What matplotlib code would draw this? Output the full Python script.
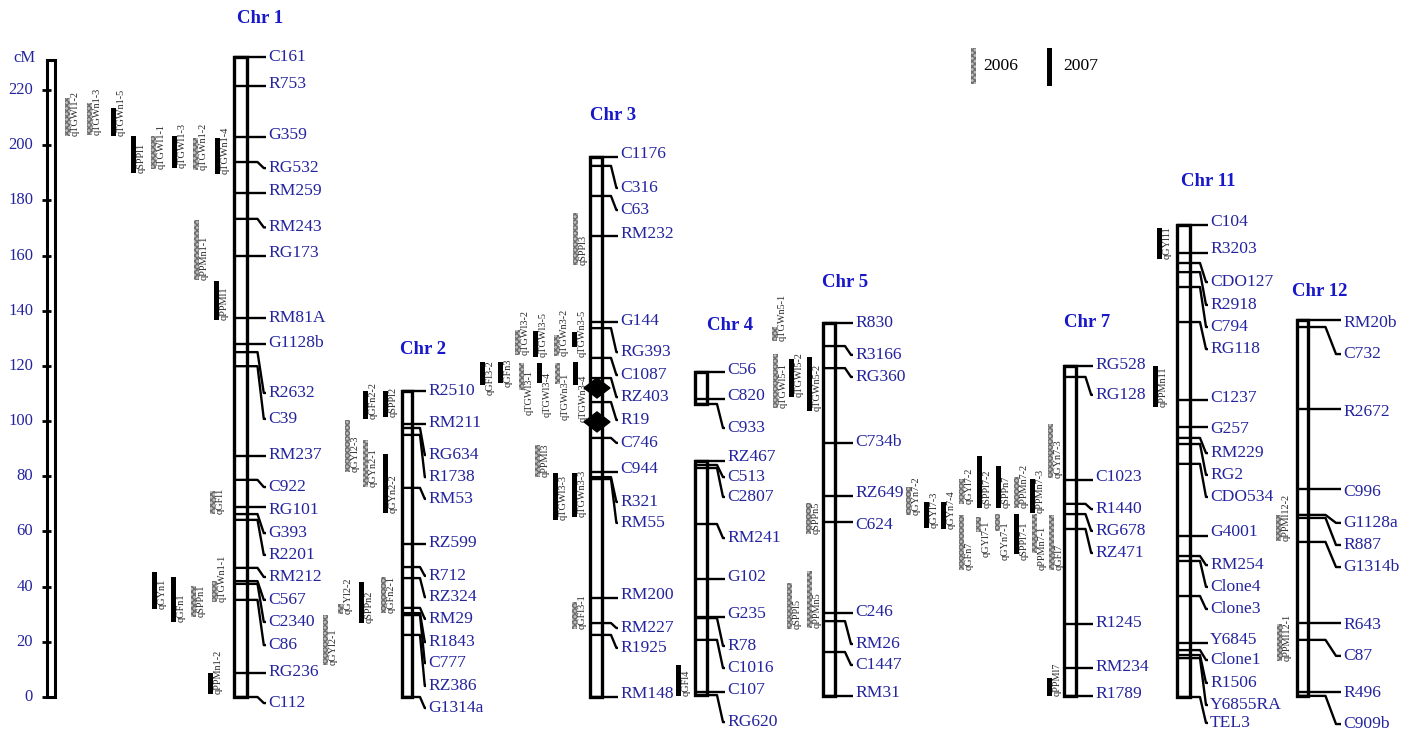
import matplotlib
matplotlib.use('Agg')
import matplotlib.pyplot as plt
from matplotlib.patches import Rectangle, Polygon

# ---- markers (name, cM) per chromosome ----
chr1_markers = ['C161', 'R753', 'G359', 'RG532', 'RM259', 'RM243', 'RG173', 'RM81A', 'G1128b',
                'R2632', 'C39', 'RM237', 'C922', 'RG101', 'G393', 'R2201', 'RM212', 'C567',
                'C2340', 'C86', 'RG236', 'C112']
chr1_cm = [232.0, 221.5, 202.9, 193.9, 182.7, 173.3, 159.8, 137.4, 128.0,
           125.0, 119.9, 87.4, 78.7, 68.9, 66.3, 64.2, 46.8, 42.0,
           41.0, 35.2, 8.7, 0.0]

chr2_markers = ['R2510', 'RM211', 'RG634', 'R1738', 'RM53', 'RZ599', 'R712', 'RZ324', 'RM29',
                'R1843', 'C777', 'RZ386', 'G1314a']
chr2_cm = [110.9, 98.9, 97.5, 95.0, 75.8, 55.5, 47.1, 43.1, 32.3, 30.4, 29.7, 22.5, 0.0]

chr3_markers = ['C1176', 'C316', 'C63', 'RM232', 'G144', 'RG393', 'C1087', 'RZ403', 'R19',
                'C746', 'C944', 'R321', 'RM55', 'RM200', 'RM227', 'R1925', 'RM148']
chr3_cm = [195.7, 192.5, 181.6, 167.1, 135.9, 133.7, 122.9, 115.6, 106.9,
           93.9, 81.6, 79.7, 79.0, 35.9, 26.8, 22.5, 0.0]
chr3_centromere_cm = [112.0, 99.7]

chr4a_markers = ['C56', 'C820', 'C933']
chr4a_cm = [117.8, 108.0, 106.2]
chr4b_markers = ['RZ467', 'C513', 'C2807', 'RM241', 'G102', 'G235', 'R78', 'C1016', 'C107', 'RG620']
chr4b_cm = [85.5, 84.1, 83.0, 62.7, 42.8, 29.0, 28.6, 20.7, 1.8, 0.7]

chr5_markers = ['R830', 'R3166', 'RG360', 'C734b', 'RZ649', 'C624', 'C246', 'RM26', 'C1447', 'RM31']
chr5_cm = [135.6, 127.2, 119.2, 92.1, 72.9, 63.4, 30.4, 27.5, 16.3, 0.4]

chr7_markers = ['RG528', 'RG128', 'C1023', 'R1440', 'RG678', 'RZ471', 'R1245', 'RM234', 'R1789']
chr7_cm = [120.0, 116.0, 78.7, 70.0, 66.3, 60.9, 26.5, 10.5, 0.4]

chr11_markers = ['C104', 'R3203', 'CDO127', 'R2918', 'C794', 'RG118', 'C1237', 'G257', 'RM229',
                 'RG2', 'CDO534', 'G4001', 'RM254', 'Clone4', 'Clone3', 'Y6845', 'Clone1',
                 'R1506', 'Y6855RA', 'TEL3']
chr11_cm = [171.1, 160.9, 157.3, 154.0, 148.6, 135.9, 107.6, 97.9, 93.9,
            91.7, 84.5, 58.4, 51.1, 49.3, 36.6, 19.6, 17.0, 15.2, 14.1, 0.0]

chr12_markers = ['RM20b', 'C732', 'R2672', 'C996', 'G1128a', 'R887', 'G1314b', 'R643', 'C87',
                 'R496', 'C909b']
chr12_cm = [136.6, 134.1, 104.4, 75.4, 66.0, 64.9, 56.2, 26.8, 20.7, 1.8, 0.4]

# ---- label placement (cM where each marker name is written) ----
chr1_lab = [232.0, 222.2, 203.7, 191.7, 183.4, 170.2, 160.9, 137.4, 128.3, 110.2, 100.8,
            87.7, 76.1, 67.8, 59.4, 51.5, 43.5, 35.2, 27.2, 18.8, 9.1, -2.2]
chr2_lab = [110.9, 99.3, 87.7, 79.7, 71.8, 55.8, 43.9, 36.2, 28.3, 19.9, 12.3, 4.0, -4.0]
chr3_lab = [196.8, 184.5, 176.5, 167.8, 136.3, 125.0, 116.7, 108.7, 100.4, 92.1, 82.6,
            70.7, 63.1, 37.0, 25.0, 17.8, 1.1]
chr4a_lab = [118.6, 109.1, 97.5]
chr4b_lab = [87.0, 79.7, 72.5, 57.6, 43.5, 30.1, 18.5, 10.5, 2.5, -9.1]
chr5_lab = [135.6, 124.0, 116.0, 92.4, 73.9, 62.3, 30.8, 19.2, 11.6, 1.4]
chr7_lab = [120.3, 109.5, 79.7, 68.1, 60.2, 52.2, 26.8, 10.9, 1.1]
chr11_lab = [172.2, 162.4, 150.4, 142.1, 134.1, 126.1, 108.4, 97.1, 88.4, 80.5, 72.5,
             59.8, 47.8, 39.9, 31.9, 20.7, 13.4, 5.1, -2.9, -9.4]
chr12_lab = [135.5, 124.3, 103.3, 74.3, 63.1, 55.1, 47.1, 26.1, 14.9, 1.4, -9.8]

# ---- QTL intervals: name, top cM, bottom cM, year ----
qtl_names = ['qTGWl1-2', 'qTGWn1-3', 'qTGWn1-5', 'qSPPl1', 'qTGWl1-1', 'qTGWl1-3', 'qTGWn1-2',
             'qTGWn1-4', 'qPPMn1-1', 'qPPMl1', 'qGFl1', 'qGYn1', 'qGFn1', 'qSPPn1', 'qTGWn1-1',
             'qPPMn1-2',
             'qGFn2-2', 'qSPPl2', 'qGYl2-3', 'qGYn2-1', 'qGYn2-2', 'qGYl2-2', 'qSPPn2', 'qGFn2-1',
             'qGYl2-1',
             'qGFl3-2', 'qGFn3', 'qTGWl3-2', 'qTGWl3-1', 'qTGWl3-5', 'qTGWl3-4', 'qTGWn3-2',
             'qTGWn3-1', 'qTGWn3-5', 'qTGWn3-4', 'qSPPl3', 'qPPMl3', 'qTGWl3-3', 'qTGWn3-3',
             'qGFl3-1',
             'qGFl4',
             'qTGWn5-1', 'qTGWl5-1', 'qTGWl5-2', 'qTGWn5-2', 'qSPPn5', 'qSPPl5', 'qPPMn5',
             'qGYn7-2', 'qGYl7-3', 'qGYn7-4', 'qGYl7-2', 'qGFn7', 'qSPPl7-2', 'qGYl7-1',
             'qSPPn7', 'qGYn7-1', 'qPPMn7-2', 'qSPPl7-1', 'qPPMn7-3', 'qPPMn7-1', 'qGYn7-3',
             'qGFl7', 'qPPMl7',
             'qGYl11', 'qPPMn11',
             'qPPMl12-2', 'qPPMl12-1']
qtl_top = [217.1, 215.3, 213.5, 203.3, 203.3, 203.3, 202.6, 202.6, 172.9, 150.8, 74.7, 45.3,
           43.5, 40.2, 42.0, 8.7,
           110.9, 110.9, 100.4, 93.1, 88.1, 33.7, 41.7, 43.5, 29.7,
           121.4, 121.4, 133.0, 121.1, 132.7, 121.1, 131.2, 121.1, 132.3, 121.4, 175.4, 91.3,
           81.2, 81.2, 34.4,
           11.6,
           134.1, 124.3, 122.5, 123.2, 70.3, 41.3, 45.7,
           76.1, 70.7, 70.7, 79.0, 66.0, 87.4, 65.2, 83.7, 66.3, 79.7, 66.3, 79.0, 66.3, 98.9,
           66.0, 6.9,
           170.0, 120.0,
           66.0, 26.5]
qtl_bottom = [203.3, 203.7, 203.3, 189.9, 191.4, 191.7, 191.0, 189.6, 151.1, 136.6, 66.3, 31.9,
              27.2, 29.0, 34.4, 1.1,
              100.8, 101.5, 81.6, 76.1, 66.7, 30.1, 26.8, 30.4, 11.6,
              113.1, 113.8, 124.0, 111.3, 123.3, 113.8, 123.6, 113.4, 126.9, 113.1, 156.6, 79.7,
              64.2, 65.2, 24.6,
              0.4,
              129.0, 104.7, 108.7, 103.7, 59.1, 24.6, 25.0,
              66.0, 61.3, 60.9, 70.0, 46.0, 68.5, 59.8, 68.5, 60.2, 68.5, 51.8, 66.7, 52.2, 79.4,
              46.0, 0.4,
              158.8, 105.1,
              56.5, 13.0]
qtl_year = [2006, 2006, 2007, 2007, 2006, 2007, 2006, 2007, 2006, 2007, 2006, 2007, 2007, 2006,
            2006, 2007,
            2007, 2007, 2006, 2006, 2007, 2006, 2007, 2006, 2006,
            2007, 2007, 2006, 2006, 2007, 2007, 2006, 2006, 2007, 2007, 2006, 2006, 2007, 2007,
            2006,
            2007,
            2006, 2006, 2007, 2007, 2006, 2006, 2006,
            2006, 2007, 2007, 2006, 2006, 2007, 2006, 2007, 2006, 2006, 2007, 2007, 2006, 2006,
            2006, 2007,
            2007, 2007,
            2006, 2006]

# ---- layout ----
# horizontal column of each QTL bar (pixel-like x units)
qtl_x = [65, 87, 111, 131, 151, 172, 193, 215, 194, 214, 210, 152, 171, 191, 212, 208,
         363, 383, 345, 363, 383, 338, 359, 381, 323,
         480, 498, 515, 519, 533, 537, 554, 555, 572, 573, 573, 535, 553, 572, 572,
         676,
         772, 773, 789, 807, 806, 787, 807,
         906, 924, 941, 959, 959, 977, 976, 996, 995, 1014, 1014, 1030, 1032, 1048, 1049, 1047,
         1157, 1153,
         1276, 1277]
# QTL names pushed below their bar (cM where the text starts); others start at the bar bottom
qtl_label_start = {'qGFl3-2': 109.5, 'qGFn3': 112.4, 'qTGWl3-1': 102.2, 'qTGWl3-4': 101.5,
                   'qTGWn3-1': 100.4, 'qTGWn3-4': 99.7, 'qTGWn3-5': 123.2,
                   'qGYl7-1': 50.7, 'qGYn7-1': 49.7, 'qSPPl7-1': 49.7, 'qPPMn7-1': 46.0}

# chromosome: title, x left, x right, x of labels, title x, title height (cM)
chroms = [
    ('Chr 1', 234, 247, 268, 260, 246.1, [(chr1_markers, chr1_cm, chr1_lab)]),
    ('Chr 2', 402, 412, 428, 423, 126.1, [(chr2_markers, chr2_cm, chr2_lab)]),
    ('Chr 3', 590, 602, 620, 613, 210.9, [(chr3_markers, chr3_cm, chr3_lab)]),
    ('Chr 4', 695, 707, 727, 730, 134.8, [(chr4a_markers, chr4a_cm, chr4a_lab),
                                          (chr4b_markers, chr4b_cm, chr4b_lab)]),
    ('Chr 5', 823, 835, 855, 845, 150.1, [(chr5_markers, chr5_cm, chr5_lab)]),
    ('Chr 7', 1064, 1076, 1095, 1087, 135.6, [(chr7_markers, chr7_cm, chr7_lab)]),
    ('Chr 11', 1177, 1190, 1210, 1208, 187.0, [(chr11_markers, chr11_cm, chr11_lab)]),
    ('Chr 12', 1297, 1308, 1343, 1320, 146.8, [(chr12_markers, chr12_cm, chr12_lab)]),
]

axis_ticks = list(range(0, 221, 20))
axis_top = 231.0

PX = 2.759           # pixels per cM
GRAY = '#bdbdbd'
HATCH = '#6e6e6e'
BLUE = '#24249e'
TITLE_BLUE = '#1818c8'
SERIF = ['Liberation Serif', 'DejaVu Serif']

fig = plt.figure(figsize=(14.12, 7.33), dpi=100)
ax = fig.add_axes([0, 0, 1, 1])
ax.set_xlim(0, 1412)
ax.set_ylim(-36 / PX, 697 / PX)
ax.axis('off')


def DrawBar(x, top, bottom, year, width=5):
    if year == 2006:
        ax.add_patch(Rectangle((x, bottom), width, top - bottom, facecolor=GRAY,
                               edgecolor=HATCH, hatch='xxxxxx', linewidth=0, zorder=3))
    else:
        ax.add_patch(Rectangle((x, bottom), width, top - bottom, facecolor='black',
                               edgecolor='none', linewidth=0, zorder=3))


# cM axis
ax.add_patch(Rectangle((47, 0), 8, axis_top, facecolor='white', edgecolor='black', lw=2.2, zorder=2))
for t in axis_ticks:
    ax.plot([42, 51], [t, t], color='black', lw=2.0, solid_capstyle='butt', zorder=3)
    ax.text(33, t, str(t), ha='right', va='center', fontsize=12, color=BLUE, family=SERIF)
ax.text(35, axis_top + 0.6, 'cM', ha='right', va='center', fontsize=12, color=BLUE, family=SERIF)

# chromosomes
for Title, Xl, Xr, Xlab, TitleX, TitleY, Segs in chroms:
    Gap = Xlab - Xr
    for Names, Cms, Labs in Segs:
        Top, Bot = max(Cms), min(Cms)
        ax.add_patch(Rectangle((Xl, Bot), Xr - Xl, Top - Bot, facecolor='white',
                               edgecolor='black', lw=2.4, zorder=4))
        for Name, Cm, Lab in zip(Names, Cms, Labs):
            if abs(Lab - Cm) < 1.6:
                ax.plot([Xl, Xlab - 2], [Cm, Cm], color='black', lw=1.7, zorder=5,
                        solid_capstyle='butt')
            else:
                ax.plot([Xl, Xr + 0.5 * Gap, Xr + 0.8 * Gap, Xlab - 2], [Cm, Cm, Lab, Lab],
                        color='black', lw=1.7, zorder=5, solid_capstyle='butt')
            ax.text(Xlab, Lab, Name, ha='left', va='center', fontsize=12.6, color=BLUE,
                    family=SERIF, zorder=6)
    ax.text(TitleX, TitleY, Title, ha='center', va='center', fontsize=13.5,
            fontweight='bold', color=TITLE_BLUE, family=SERIF)

# centromere diamonds on Chr 3
for Cm in chr3_centromere_cm:
    Cx = 597
    ax.add_patch(Polygon([(Cx - 13, Cm), (Cx, Cm + 10 / PX), (Cx + 13, Cm), (Cx, Cm - 10 / PX)],
                         closed=True, facecolor='black', edgecolor='black', zorder=7))

# QTL bars with their names
for Name, Top, Bot, Year, X in zip(qtl_names, qtl_top, qtl_bottom, qtl_year, qtl_x):
    DrawBar(X, Top, Bot, Year)
    Start = qtl_label_start.get(Name, Bot)
    ax.text(X + 5.5, Start, Name, rotation=90, rotation_mode='anchor', ha='left', va='top',
            fontsize=7.4, color='#2a2a2a', family=SERIF, zorder=6)

# legend
DrawBar(971, 235.2, 222.2, 2006)
ax.text(983, 228.7, '2006', ha='left', va='center', fontsize=12.6, color='black', family=SERIF)
DrawBar(1047, 235.2, 221.5, 2007)
ax.text(1063, 228.7, '2007', ha='left', va='center', fontsize=12.6, color='black', family=SERIF)

fig.savefig('out.png', dpi=100)
